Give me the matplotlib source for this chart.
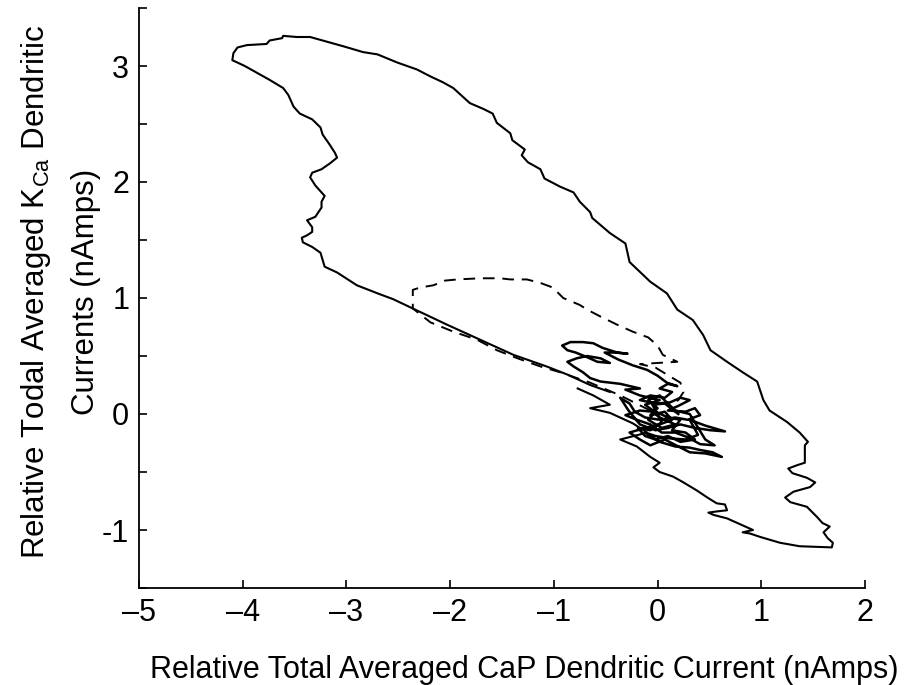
import matplotlib
matplotlib.use("Agg")
import matplotlib.pyplot as plt
import numpy as np

#-------------------------------------------------------------------------------
# Values (nAmps)

# Large hysteresis loop (solid): lower boundary -> right edge -> top -> left side
loop_x = [
  -0.77, -0.62, -0.46, -0.65, -0.46, -0.24, -0.10, -0.36, -0.20, -0.07,
   0.02, -0.04,  0.02,  0.15,  0.25,  0.38,  0.48,  0.57,  0.65,  0.67,
   0.57,  0.49,  0.54,  0.67,  0.82,  0.92,  0.82,  0.89,  0.99,  1.18,
   1.37,  1.68,
   1.69,  1.64,  1.60,  1.66,  1.59,  1.54,  1.44,  1.28,  1.23,  1.31,
   1.47,  1.52,  1.44,  1.30,  1.26,  1.35,  1.42,  1.42,  1.45,  1.37,
   1.25,  1.08,  1.02,  0.96,  0.82,  0.67,  0.51,  0.44,  0.34,  0.19,
   0.09, -0.07, -0.27, -0.29, -0.31, -0.46, -0.63, -0.65, -0.75, -0.81,
  -0.94, -1.09, -1.13, -1.25, -1.31, -1.28, -1.40, -1.42, -1.55, -1.59,
  -1.68, -1.81, -1.97, -2.07, -2.19, -2.32, -2.51, -2.70, -2.84, -3.03,
  -3.19, -3.35, -3.48, -3.61, -3.62, -3.74, -3.77, -3.96, -4.05, -4.09,
  -4.10, -3.98, -3.86, -3.74, -3.61, -3.56, -3.51, -3.45, -3.33, -3.25,
  -3.23, -3.16, -3.11, -3.09, -3.16, -3.24, -3.33, -3.35, -3.30, -3.24,
  -3.21, -3.24, -3.24, -3.30, -3.38, -3.33, -3.33, -3.38, -3.43, -3.42,
  -3.33, -3.25, -3.21, -3.09, -2.90, -2.70, -2.55, -2.36, -2.03, -1.71,
  -1.39, -1.07, -0.87, -0.65, -0.46]
loop_y = [
   0.22,  0.16,  0.08,  0.05,  0.01, -0.08, -0.16, -0.22, -0.28, -0.37,
  -0.42, -0.46, -0.50, -0.54, -0.59, -0.66, -0.72, -0.77, -0.78, -0.83,
  -0.84, -0.85, -0.87, -0.90, -0.96, -1.00, -1.02, -1.03, -1.06, -1.11,
  -1.14, -1.15,
  -1.11, -1.07, -1.02, -0.97, -0.94, -0.89, -0.80, -0.76, -0.72, -0.67,
  -0.63, -0.59, -0.55, -0.51, -0.47, -0.44, -0.42, -0.27, -0.24, -0.16,
  -0.07,  0.03,  0.12,  0.28,  0.36,  0.45,  0.55,  0.68,  0.81,  0.90,
   1.04,  1.14,  1.31,  1.39,  1.47,  1.56,  1.69,  1.74,  1.83,  1.91,
   1.96,  2.03,  2.11,  2.17,  2.23,  2.28,  2.36,  2.42,  2.51,  2.59,
   2.63,  2.68,  2.81,  2.86,  2.91,  2.97,  3.03,  3.10,  3.12,  3.17,
   3.21,  3.25,  3.25,  3.26,  3.24,  3.22,  3.19,  3.18,  3.16,  3.11,
   3.05,  3.00,  2.94,  2.88,  2.81,  2.75,  2.65,  2.59,  2.54,  2.47,
   2.41,  2.32,  2.25,  2.21,  2.16,  2.11,  2.08,  2.04,  1.97,  1.91,
   1.88,  1.83,  1.78,  1.70,  1.67,  1.61,  1.57,  1.54,  1.52,  1.48,
   1.44,  1.39,  1.27,  1.22,  1.11,  1.04,  0.99,  0.91,  0.77,  0.64,
   0.51,  0.41,  0.34,  0.25,  0.19]

# Dashed trajectory
dash_x = [
  -0.07, -0.36, -0.65, -0.94, -1.13, -1.35, -1.55, -1.74, -1.97, -2.19,
  -2.36, -2.36, -2.29, -2.16, -2.05, -1.93, -1.71, -1.52, -1.42, -1.26,
  -1.13, -1.01, -0.91, -0.75, -0.68, -0.55, -0.39, -0.24, -0.09,  0.00,
   0.05,  0.19,  0.00, -0.17, -0.02,  0.09,  0.22,  0.25,  0.20,  0.12]
dash_y = [
   0.03,  0.16,  0.27,  0.36,  0.41,  0.48,  0.55,  0.64,  0.71,  0.79,
   0.91,  1.07,  1.09,  1.11,  1.15,  1.16,  1.17,  1.17,  1.16,  1.16,
   1.13,  1.09,  1.00,  0.94,  0.90,  0.84,  0.77,  0.71,  0.66,  0.59,
   0.51,  0.45,  0.44,  0.43,  0.40,  0.34,  0.27,  0.19,  0.12,  0.08]

# Noisy steady-state cluster around the origin (solid)
clus_x = [
   0.00, -0.12,  0.02, -0.17, -0.31, -0.17, -0.36, -0.55, -0.65, -0.72,
  -0.81, -0.87, -0.78, -0.68, -0.55, -0.46, -0.58, -0.68, -0.79, -0.87,
  -0.92, -0.84, -0.72, -0.62, -0.53, -0.39, -0.29, -0.41, -0.51, -0.38,
  -0.24, -0.10,  0.00,  0.09,  0.19,  0.10,  0.02,  0.14,  0.07, -0.07,
  -0.17, -0.02,  0.12,  0.22,  0.31,  0.20,  0.10,  0.27,  0.36,  0.41,
   0.29,  0.17,  0.02, -0.12, -0.22, -0.27, -0.36, -0.28, -0.17, -0.02,
   0.10,  0.22,  0.36,  0.51,  0.65,  0.46,  0.31,  0.39,  0.27,  0.12,
  -0.02, -0.12,  0.02,  0.17,  0.31,  0.41,  0.53,  0.62,  0.46,  0.31,
   0.20,  0.07, -0.07, -0.17, -0.27, -0.12,  0.02,  0.14,  0.07, -0.07,
   0.00, -0.09,  0.02,  0.17,  0.31,  0.46,  0.55,  0.41,  0.29,  0.17,
   0.04, -0.07, -0.20, -0.31, -0.17, -0.05,  0.02,  0.17,  0.04, -0.09,
  -0.02,  0.10,  0.22,  0.14,  0.27,  0.36,  0.22,  0.10, -0.02, -0.12,
  -0.19, -0.07,  0.04, -0.05,  0.07,  0.20]
clus_y = [
   0.00,  0.08,  0.12,  0.16,  0.21,  0.22,  0.26,  0.28,  0.31,  0.36,
   0.41,  0.45,  0.48,  0.50,  0.48,  0.44,  0.45,  0.49,  0.53,  0.55,
   0.59,  0.62,  0.62,  0.61,  0.57,  0.53,  0.52,  0.53,  0.53,  0.47,
   0.42,  0.38,  0.33,  0.27,  0.24,  0.26,  0.22,  0.19,  0.14,  0.16,
   0.12,  0.09,  0.10,  0.14,  0.12,  0.07,  0.03,  0.02,  0.05, -0.01,
  -0.05, -0.03, -0.05, -0.03,  0.02,  0.09,  0.14,  0.03, -0.09, -0.14,
  -0.12, -0.09, -0.12, -0.14, -0.15, -0.10, -0.05, -0.18, -0.22, -0.21,
  -0.19, -0.16, -0.24, -0.28, -0.29, -0.31, -0.33, -0.37, -0.34, -0.33,
  -0.28, -0.22, -0.27, -0.22, -0.16, -0.12, -0.09, -0.05,  0.02, -0.01,
   0.05,  0.12,  0.16,  0.03,  0.00, -0.22, -0.27, -0.26, -0.20, -0.16,
  -0.16, -0.09, -0.05, -0.01,  0.03,  0.02, -0.03, -0.09, -0.12, -0.05,
   0.02, -0.03, -0.05, -0.14, -0.16, -0.22, -0.24, -0.19, -0.22, -0.19,
  -0.12, -0.14, -0.07,  0.08,  0.09,  0.00]

x_ticks = [-5, -4, -3, -2, -1, 0, 1, 2]
y_ticks = [-1.5, -1, -0.5, 0, 0.5, 1, 1.5, 2, 2.5, 3, 3.5]
y_ticklabels = ["", "-1", "", "0", "", "1", "", "2", "", "3", ""]

#-------------------------------------------------------------------------------

def main():
  plt.rcParams["font.family"] = ["Liberation Sans", "DejaVu Sans"]
  plt.rcParams["axes.unicode_minus"] = False

  fig = plt.figure(figsize=(9.06, 6.85), dpi=100)
  ax = fig.add_axes([139/906, 1 - 588/685, 726/906, 580/685])

  ax.plot(loop_x, loop_y, color="black", lw=1.5)
  ax.plot(clus_x, clus_y, color="black", lw=1.8)
  ax.plot(dash_x, dash_y, color="black", lw=1.4, dashes=(6, 4))

  ax.set_xlim(-5, 2)
  ax.set_ylim(-1.5, 3.5)

  ax.spines["top"].set_visible(False)
  ax.spines["right"].set_visible(False)
  for side in ["left", "bottom"]:
    ax.spines[side].set_linewidth(1.3)

  ax.set_xticks(x_ticks)
  ax.set_xticklabels(["\u2013" + str(-t) if t < 0 else str(t) for t in x_ticks])
  ax.set_yticks(y_ticks)
  ax.set_yticklabels(y_ticklabels)
  ax.tick_params(direction="in", length=6, width=1.2, labelsize=22)
  ax.tick_params(axis="x", pad=7)
  ax.tick_params(axis="y", pad=7)

  ax.set_xlabel("Relative Total Averaged CaP Dendritic Current (nAmps)",
                fontsize=22)
  ax.xaxis.set_label_coords(0.53, -0.116)
  ax.set_ylabel("Relative Todal Averaged K$_\\mathregular{Ca}$ Dendritic\nCurrents (nAmps)",
                fontsize=22.5, linespacing=1.8)
  ax.yaxis.set_label_coords(-0.052, 0.51)

  fig.savefig("out.png", dpi=100)
  plt.close(fig)

if __name__ == "__main__":
  main()
